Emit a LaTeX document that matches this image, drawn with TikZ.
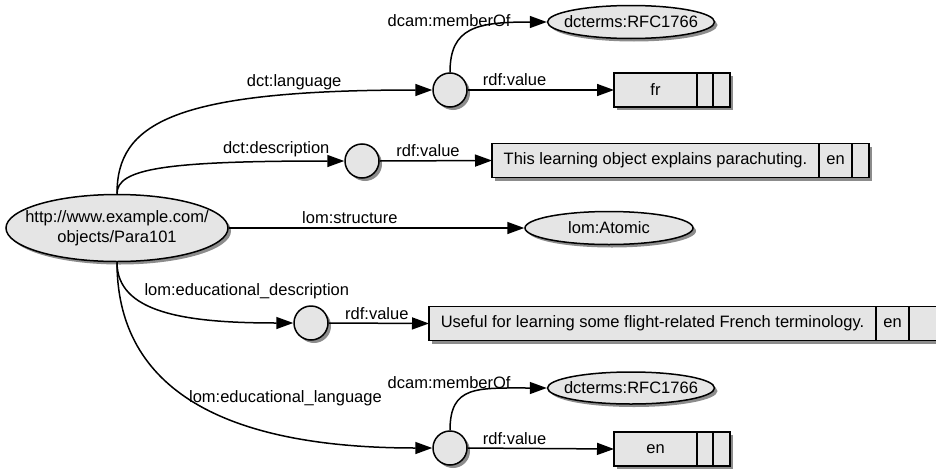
\documentclass[tikz,border=0pt]{standalone}
\usepackage{fontspec}
\setmainfont{Liberation Sans}
\usetikzlibrary{positioning}
\usetikzlibrary{shapes.geometric}
\usetikzlibrary{shadows}
\usetikzlibrary{arrows.meta}
\tikzset{
every node/.style={font=\fontsize{16.5}{20}\selectfont},
figure/.style={ % Common look of the drawn nodes
draw,
line width=1.5pt,
fill=gray!20,
drop shadow={shadow xshift=3pt, shadow yshift=-3pt, fill=gray!90, opacity=1}},
bnode/.style={figure, circle, minimum size=34pt, inner sep=0pt},
res/.style={figure, ellipse, inner ysep=0pt},
lit/.style={figure, rectangle, minimum height=34pt, inner sep=0pt, outer sep=0pt},
lbl/.style={}, % Labels of the properties
link/.style={ % Sets the properties for each property arc
draw,
line width=1.5pt,
-{Triangle[length=17pt, width=12pt]}}}

\begin{document}
\begin{tikzpicture}[x=1pt, y=-1pt]
	\clip (0,0) rectangle (936,471);
	% resources
	\node[res, minimum width=222pt, minimum height=66pt, inner xsep=-13.5pt, inner ysep=6pt, align=center] (para) at (117,228) {http://www.example.com/\\objects/Para101};
	\node[res, minimum width=168pt, minimum height=33pt] (atomic) at (609,228) {lom:Atomic};
	\node[res, minimum width=167pt, minimum height=33pt, inner xsep=-8pt] (rfcA) at (631,22) {dcterms:RFC1766};
	\node[res, minimum width=167pt, minimum height=32pt, inner xsep=-8pt] (rfcB) at (631,388) {dcterms:RFC1766};
	% blank nodes
	\node[bnode] (lang) at (450,90) {};
	\node[bnode] (desc) at (362,161) {};
	\node[bnode] (edesc) at (311,323) {};
	\node[bnode] (elang) at (450,448) {};
	% literals
	\node[lit, minimum width=83pt] (fr) at (655.5,90) {fr};
	\node[lit, minimum width=16pt, right=0pt of fr] (frL) {};
	\node[lit, minimum width=17pt, right=0pt of frL] (frT) {};
	\node[lit, minimum width=327pt] (dtext) at (655.5,160.5) {This learning object explains parachuting.};
	\node[lit, minimum width=33pt, right=0pt of dtext] (dtextL) {en};
	\node[lit, minimum width=17pt, right=0pt of dtextL] (dtextT) {};
	\node[lit, minimum width=447pt] (etext) at (652.5,323.5) {Useful for learning some flight-related French terminology.};
	\node[lit, minimum width=33pt, right=0pt of etext] (etextL) {en};
	\node[lit, minimum width=33pt, right=0pt of etextL] (etextT) {};
	\node[lit, minimum width=83pt] (en) at (655.5,449) {en};
	\node[lit, minimum width=16pt, right=0pt of en] (enL) {};
	\node[lit, minimum width=17pt, right=0pt of enL] (enT) {};
	% arcs
	\draw[link] (para.north) .. controls +(0,-70) and +(-260,0) .. (lang.west) node[lbl, pos=0.79, above] (tLang) {dct:language};
	\draw[link] (para.north) .. controls +(0,-25) and +(-180,0) .. (desc.west) node[lbl, pos=0.86, above] (tDesc) {dct:description};
	\draw[link] (para.east) -- (atomic.west) node[lbl, pos=0.41, above] (tStruct) {lom:structure};
	\draw[link] (para.south) .. controls +(0,50) and +(-110,0) .. (edesc.west) node[lbl, pos=0.85, above=19pt] (tEdesc) {lom:educational\_description};
	\draw[link] (para.south) .. controls +(0,120) and +(-220,0) .. (elang.west) node[lbl, pos=0.74, above=25pt] (tElang) {lom:educational\_language};
	\draw[link] (lang.north) .. controls +(0,-45) and +(-70,0) .. (rfcA.west) node[lbl, pos=0.5, above, xshift=-23pt] (tMemA) {dcam:memberOf};
	\draw[link] (lang.east) -- (fr.west) node[lbl, pos=0.32, above] (tValA) {rdf:value};
	\draw[link] (desc.east) -- (dtext.west) node[lbl, pos=0.43, above] (tValB) {rdf:value};
	\draw[link] (edesc.east) -- (etext.west) node[lbl, pos=0.48, above] (tValC) {rdf:value};
	\draw[link] (elang.north) .. controls +(0,-45) and +(-70,0) .. (rfcB.west) node[lbl, pos=0.5, above, xshift=-23pt] (tMemB) {dcam:memberOf};
	\draw[link] (elang.east) -- (en.west) node[lbl, pos=0.32, above] (tValD) {rdf:value};
\end{tikzpicture}
\end{document}
